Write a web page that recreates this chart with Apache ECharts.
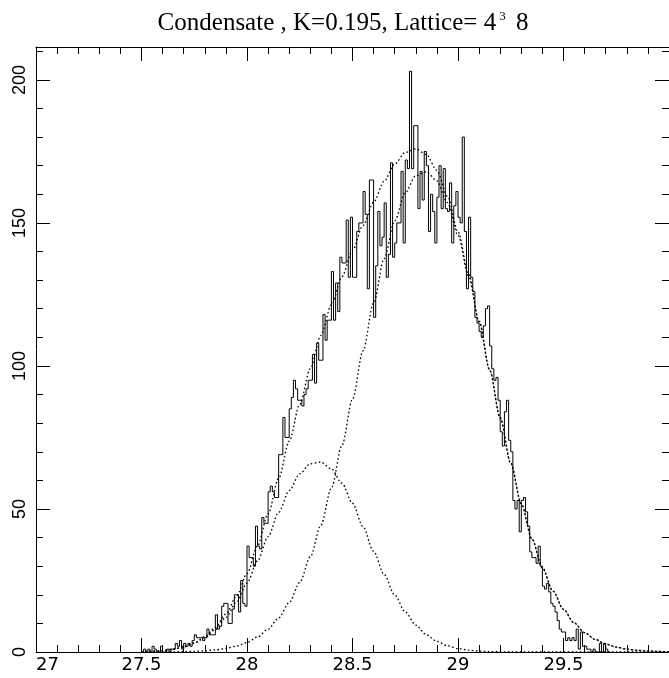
<!DOCTYPE html>
<html>
<head>
<meta charset="utf-8">
<script src="https://cdn.jsdelivr.net/npm/echarts@6/dist/echarts.min.js"></script>
<style>
  html, body { margin: 0; padding: 0; background: #fff; }
  #chart { width: 669px; height: 678px; }
</style>
</head>
<body>
<div id="chart"></div>
<script>
// Histogram of the condensate: bins of width 0.01 starting at 27.50
const binStart = 27.5;
const binWidth = 0.01;
const counts = [
  0, 1, 0, 1, 0, 2, 1, 0, 0, 2,
  0, 0, 1, 0, 1, 1, 3, 2, 4, 1,
  3, 2, 3, 2, 4, 6, 5, 5, 5, 4,
  5, 8, 6, 6, 6, 13, 8, 9, 16, 17,
  17, 10, 10, 15, 20, 20, 14, 25, 17, 16,
  37, 33, 33, 30, 44, 37, 36, 47, 45, 45,
  56, 58, 56, 54, 54, 69, 69, 82, 75, 75,
  85, 89, 95, 92, 88, 88, 86, 90, 92, 95,
  95, 104, 94, 108, 102, 102, 118, 109, 116, 116,
  133, 116, 129, 119, 138, 136, 136, 151, 131, 152,
  131, 131, 147, 150, 150, 161, 153, 127, 165, 165,
  117, 135, 154, 142, 145, 157, 131, 139, 171, 138,
  143, 150, 150, 168, 143, 172, 169, 203, 169, 184,
  184, 155, 168, 158, 175, 170, 147, 160, 154, 143,
  159, 170, 155, 169, 155, 154, 164, 143, 156, 161,
  152, 150, 180, 147, 127, 152, 131, 126, 117, 115,
  112, 110, 114, 120, 121, 107, 99, 95, 96, 88,
  77, 72, 84, 88, 74, 70, 53, 50, 53, 42,
  53, 54, 49, 44, 35, 33, 33, 31, 37, 30,
  23, 22, 24, 21, 17, 16, 14, 11, 8, 7,
  7, 4, 5, 4, 5, 4, 8, 1, 7, 2,
  2, 1, 1, 0, 1, 0, 0, 3, 0, 3,
  1, 0
];

// Fitted curves sampled every 0.05
const curveX = [
  27.50, 27.55, 27.60, 27.65, 27.70, 27.75, 27.80, 27.85, 27.90, 27.95,
  28.00, 28.05, 28.10, 28.15, 28.20, 28.25, 28.30, 28.35, 28.40, 28.45,
  28.50, 28.55, 28.60, 28.65, 28.70, 28.75, 28.80, 28.85, 28.90, 28.95,
  29.00, 29.05, 29.10, 29.15, 29.20, 29.25, 29.30, 29.35, 29.40, 29.45,
  29.50, 29.55, 29.60, 29.65, 29.70, 29.75, 29.80, 29.85, 29.90, 29.95,
  30.00
];
const fitTotal = [
  0.13, 0.27, 0.53, 1.01, 1.85, 3.23, 5.41, 8.63, 13.24, 19.46,
  27.43, 37.15, 48.3, 60.7, 73.7, 86.6, 99.1, 110.7, 121.3, 131.2,
  140.4, 149.1, 157.2, 164.6, 170.6, 174.6, 175.9, 173.9, 168.4, 159.3,
  146.9, 132.2, 115.7, 98.7, 81.9, 66.0, 51.8, 39.6, 29.4, 21.3,
  14.9, 10.2, 6.8, 4.4, 2.8, 1.7, 1.0, 0.58, 0.33, 0.18,
  0.1
];
const fitLow = [
  0.12, 0.25, 0.5, 0.95, 1.73, 3.0, 5.0, 7.9, 12.0, 17.4,
  24.1, 31.9, 40.3, 48.8, 56.4, 62.3, 65.8, 66.4, 64.0, 59.0,
  52.0, 43.8, 35.2, 27.1, 19.9, 14.0, 9.4, 6.0, 3.7, 2.2,
  1.2, 0.65, 0.33, 0.16, 0.07, 0.03, 0, 0, 0, 0,
  0, 0, 0, 0, 0, 0, 0, 0, 0, 0,
  0
];
const fitHigh = [
  0.01, 0.02, 0.03, 0.06, 0.12, 0.23, 0.41, 0.73, 1.24, 2.06,
  3.33, 5.25, 8.0, 11.9, 17.3, 24.3, 33.3, 44.3, 57.3, 72.2,
  88.4, 105.3, 122.0, 137.5, 150.7, 160.6, 166.5, 167.9, 164.7, 157.1,
  145.7, 131.5, 115.4, 98.5, 81.8, 66.0, 51.8, 39.6, 29.4, 21.3,
  14.9, 10.2, 6.8, 4.4, 2.8, 1.7, 1.0, 0.58, 0.33, 0.18,
  0.1
];

const xMin = 27, xMax = 30, xStep = 0.5;
const yMin = 0, yMax = 211.5, yStep = 50, yMinorStep = 10;

// step outline: each point is a bin's left edge; closing point at the last right edge
const histPoints = counts.map((c, i) => [binStart + i * binWidth, c]);
histPoints.push([binStart + counts.length * binWidth, counts[counts.length - 1]]);

const pair = (ys) => curveX.map((x, i) => [x, ys[i]]);

const ink = '#000';
const lineCommon = { show: true, onZero: false, lineStyle: { color: ink, width: 1 } };
const dotted = { color: ink, width: 1.3, type: [1.6, 2.4] };

function xAxisDef(pos, labels) {
  return {
    type: 'value', position: pos, min: xMin, max: xMax, interval: xStep,
    axisLine: lineCommon,
    axisTick: { show: true, inside: true, length: 14, lineStyle: { color: ink, width: 1 } },
    minorTick: { show: true, splitNumber: 5, length: 7, lineStyle: { color: ink, width: 1 } },
    splitLine: { show: false },
    axisLabel: labels ? {
      show: true, color: ink, fontFamily: 'DejaVu Sans', fontSize: 18, margin: 4,
      showMaxLabel: false, alignMinLabel: 'left'
    } : { show: false }
  };
}
function yAxisDef(pos, step, len, labels, line) {
  return {
    type: 'value', position: pos, min: yMin, max: yMax, interval: step,
    axisLine: line ? lineCommon : { show: false },
    axisTick: { show: true, inside: true, length: len, lineStyle: { color: ink, width: 1 } },
    splitLine: { show: false },
    axisLabel: labels ? {
      show: true, color: ink, fontFamily: 'Liberation Sans', fontSize: 18, margin: 7,
      rotate: 90, showMaxLabel: false
    } : { show: false }
  };
}

const chart = echarts.init(document.getElementById('chart'), null, { renderer: 'canvas' });
chart.setOption({
  animation: false,
  backgroundColor: '#fff',
  grid: { left: 36, top: 47, width: 642, height: 605, containLabel: false },
  graphic: [{
    type: 'text', x: 343, y: 23,
    style: {
      text: 'Condensate , K=0.195, Lattice= 4{sup|3} 8',
      fontFamily: 'Liberation Serif', fontSize: 25, fill: ink,
      align: 'center', verticalAlign: 'middle',
      rich: {
        sup: { fontFamily: 'Liberation Serif', fontSize: 13, verticalAlign: 'top', lineHeight: 13, padding: [0, 4, 22, 3] }
      }
    }
  }],
  xAxis: [xAxisDef('bottom', true), xAxisDef('top', false)],
  yAxis: [
    yAxisDef('left', yStep, 14, true, true),
    yAxisDef('left', yMinorStep, 7, false, false),
    yAxisDef('right', yStep, 14, false, true),
    yAxisDef('right', yMinorStep, 7, false, false)
  ],
  series: [
    {
      name: 'counts', type: 'line', data: histPoints, step: 'end',
      symbol: 'none', lineStyle: { color: ink, width: 1 }, z: 3
    },
    {
      name: 'fit', type: 'line', data: pair(fitTotal), smooth: 0.3, smoothMonotone: 'x',
      symbol: 'none', lineStyle: dotted, z: 2
    },
    {
      name: 'low', type: 'line', data: pair(fitLow), smooth: 0.3, smoothMonotone: 'x',
      symbol: 'none', lineStyle: dotted, z: 2
    },
    {
      name: 'high', type: 'line', data: pair(fitHigh), smooth: 0.3, smoothMonotone: 'x',
      symbol: 'none', lineStyle: dotted, z: 2
    }
  ]
});
</script>
</body>
</html>
